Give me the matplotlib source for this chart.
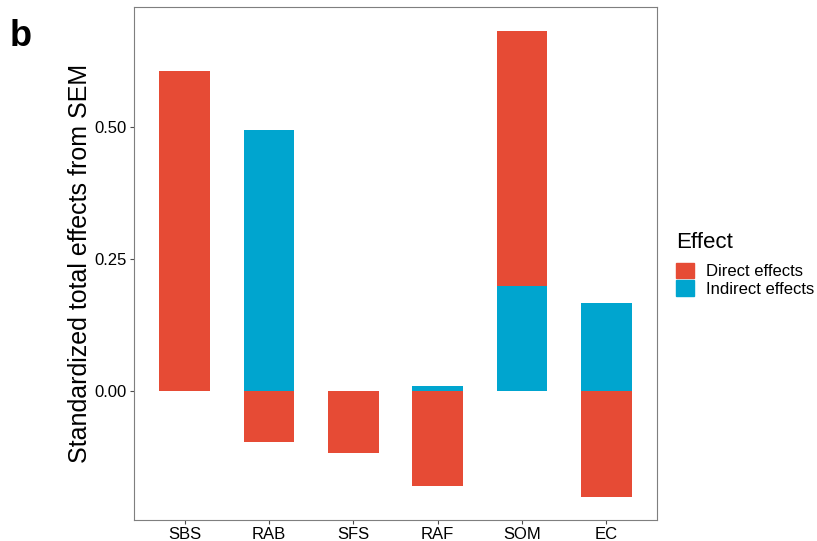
import numpy as np
import matplotlib.pyplot as plt
from matplotlib.patches import Patch

plt.rcParams['font.family'] = ['Liberation Sans', 'DejaVu Sans']

# data
cats = ["SBS", "RAB", "SFS", "RAF", "SOM", "EC"]
direct = [0.606, -0.097, -0.117, -0.180, 0.483, -0.200]
indirect = [0.0, 0.494, 0.0, 0.010, 0.199, 0.167]

red = "#E64B35"
blue = "#00A5CF"

fig = plt.figure(figsize=(8.17, 5.41), dpi=100)
ax = fig.add_axes([0.164, 0.0388, 0.640, 0.948])

x = np.arange(1, len(cats) + 1)
ind = np.array(indirect)
dirv = np.array(direct)
# stack: positive direct sits on top of positive indirect
base = np.where(dirv > 0, ind, 0.0)
ax.bar(x, ind, width=0.6, color=blue, linewidth=0)
ax.bar(x, dirv, width=0.6, bottom=base, color=red, linewidth=0)

ax.set_xlim(0.4, 6.6)
ax.set_ylim(-0.244, 0.727)
ax.set_xticks(x)
ax.set_xticklabels(cats)
ax.set_yticks([0.0, 0.25, 0.5])
ax.set_yticklabels(["0.00", "0.25", "0.50"])
ax.tick_params(axis='both', labelsize=12, colors='#4d4d4d', length=3, width=0.8, pad=2)
for lab in ax.get_xticklabels() + ax.get_yticklabels():
    lab.set_color('black')
for s in ax.spines.values():
    s.set_color('#7f7f7f')
    s.set_linewidth(0.8)
ax.set_ylabel("Standardized total effects from SEM", fontsize=18, labelpad=2)

handles = [Patch(color=red, label="Direct effects"), Patch(color=blue, label="Indirect effects")]
leg = fig.legend(handles=handles, title="Effect", loc='upper left',
                 bbox_to_anchor=(0.828, 0.572), frameon=False, fontsize=12,
                 title_fontsize=16, handlelength=1.05, handleheight=1.05,
                 handletextpad=0.7, labelspacing=0.05, borderpad=0, borderaxespad=0)
leg._legend_box.align = "left"
leg._legend_box.sep = 7.5

fig.text(0.012, 1 - 46 / 541, "b", fontsize=26, fontweight='bold', va='baseline')

fig.savefig("out.png", dpi=100)
